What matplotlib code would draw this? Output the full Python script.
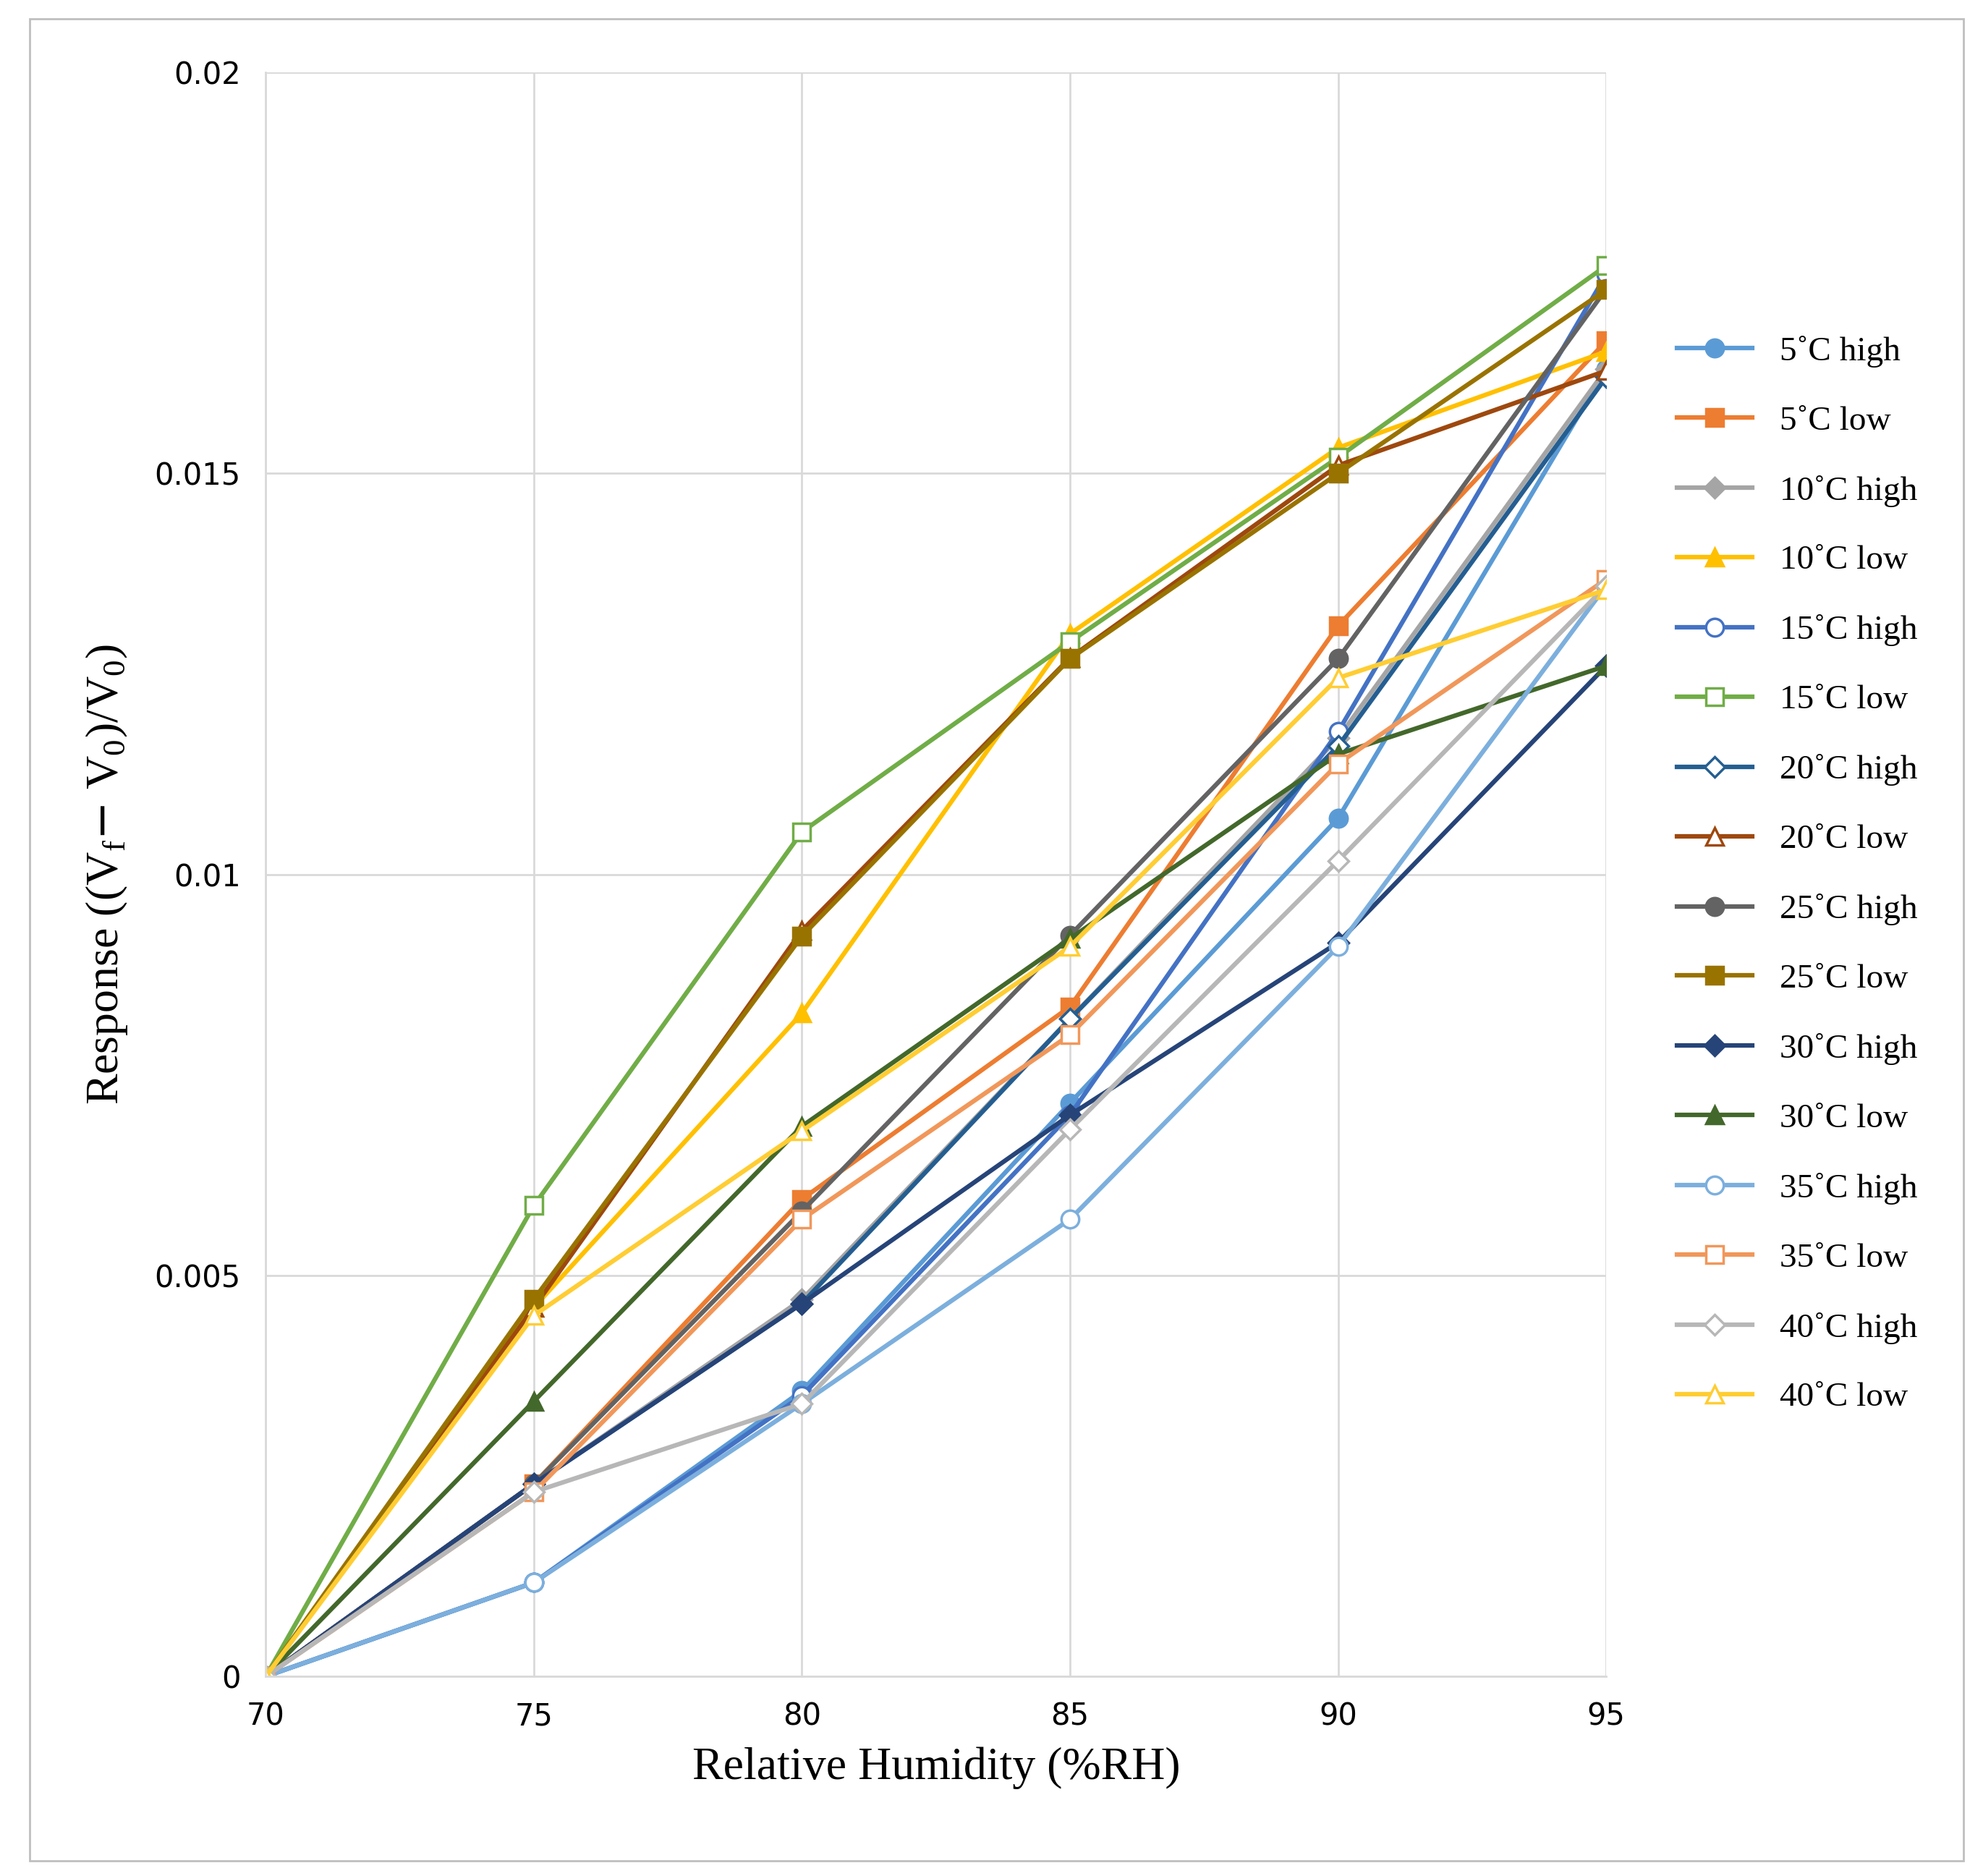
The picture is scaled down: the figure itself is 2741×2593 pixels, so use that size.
import matplotlib
matplotlib.use("Agg")
import matplotlib.pyplot as plt
from matplotlib.patches import Rectangle

x = [70, 75, 80, 85, 90, 95]
labels = ["5˚C high", "5˚C low", "10˚C high", "10˚C low", "15˚C high", "15˚C low",
          "20˚C high", "20˚C low", "25˚C high", "25˚C low", "30˚C high", "30˚C low",
          "35˚C high", "35˚C low", "40˚C high", "40˚C low"]
values = [
    [0, 0.00117, 0.00356, 0.00715, 0.0107, 0.0163],
    [0, 0.0024, 0.00595, 0.00835, 0.0131, 0.01665],
    [0, 0.0024, 0.0047, 0.0082, 0.0117, 0.0163],
    [0, 0.0046, 0.00827, 0.0130, 0.01532, 0.01652],
    [0, 0.00117, 0.0035, 0.0070, 0.01178, 0.01748],
    [0, 0.00587, 0.01053, 0.0129, 0.0152, 0.01759],
    [0, 0.0024, 0.00465, 0.0082, 0.0116, 0.0162],
    [0, 0.0046, 0.0093, 0.0127, 0.0151, 0.01628],
    [0, 0.0024, 0.0058, 0.00924, 0.01269, 0.0173],
    [0, 0.0047, 0.00923, 0.01269, 0.0150, 0.01729],
    [0, 0.0024, 0.00465, 0.0070, 0.00915, 0.0126],
    [0, 0.00343, 0.00686, 0.0092, 0.0115, 0.0126],
    [0, 0.00117, 0.0034, 0.0057, 0.0091, 0.0136],
    [0, 0.0023, 0.0057, 0.0080, 0.01138, 0.01368],
    [0, 0.0023, 0.0034, 0.00682, 0.01017, 0.0136],
    [0, 0.0045, 0.0068, 0.0091, 0.01245, 0.01355],
]
colors = ["#5B9BD5", "#ED7D31", "#A5A5A5", "#FFC000", "#4472C4", "#70AD47",
          "#255E91", "#9E480E", "#636363", "#997300", "#264478", "#43682B",
          "#7CAFDD", "#F1975A", "#B7B7B7", "#FFCD33"]
markers = ["o", "s", "D", "^"] * 4
filled = [True] * 4 + [False] * 2 + [False, False] + [True] * 4 + [False] * 4

fig = plt.figure(figsize=(27.41, 25.93), dpi=100)
fig.patches.append(Rectangle((0.015, 0.008), 0.975, 0.982, transform=fig.transFigure,
                             fill=False, edgecolor="#BFBFBF", linewidth=2))
ax = fig.add_axes([0.134, 0.1064, 0.676, 0.855])
for i, (lab, v) in enumerate(zip(labels, values)):
    ms = 11 if markers[i] != "D" else 9
    ax.plot(x, v, color=colors[i], marker=markers[i], markersize=ms * 1.6, linewidth=4.5,
            markerfacecolor=colors[i] if filled[i] else "white",
            markeredgecolor=colors[i], markeredgewidth=2.5, label=lab)
ax.set_xlim(70, 95)
ax.set_ylim(0, 0.02)
ax.set_xticks(x)
ax.set_yticks([0, 0.005, 0.01, 0.015, 0.02])
ax.set_yticklabels(["0", "0.005", "0.01", "0.015", "0.02"])
ax.grid(True, color="#D9D9D9", linewidth=2)
for s in ["top", "right"]:
    ax.spines[s].set_visible(False)
for s in ["left", "bottom"]:
    ax.spines[s].set_color("#D9D9D9")
    ax.spines[s].set_linewidth(2)
ax.tick_params(length=0, labelsize=30, pad=25)
ax.set_xlabel("Relative Humidity (%RH)", fontsize=46, family="Liberation Serif", labelpad=15)
ax.set_ylabel(r"Response ((V$_\mathregular{f}$$-$ V$_\mathregular{0}$)/V$_\mathregular{0}$)",
              fontsize=46, family="Liberation Serif", labelpad=25)
ax.legend(loc="center left", bbox_to_anchor=(1.03, 0.5), frameon=False,
          prop={"family": "Liberation Serif", "size": 34}, labelspacing=1.12,
          handlelength=2.2)
fig.savefig("out.png", dpi=100)
